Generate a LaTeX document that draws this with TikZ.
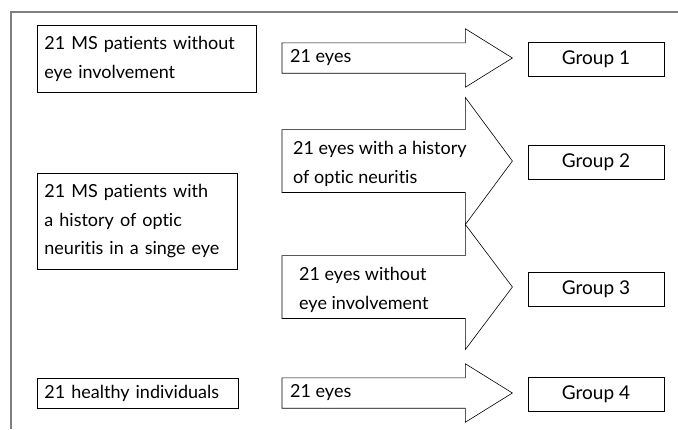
\documentclass[tikz,border=0pt]{standalone}
\usepackage{fontspec}
\setmainfont[Ligatures=NoCommon]{Lato}
\usetikzlibrary{positioning}

\begin{document}
\begin{tikzpicture}[x=1pt,y=-1pt, font=\fontsize{18}{28.5}\selectfont,
    src/.style={draw, line width=0.9pt, anchor=north west, inner xsep=7pt, align=left},
    grp/.style={draw, line width=0.9pt, minimum width=136pt, minimum height=34pt, font=\fontsize{19}{22}\selectfont},
    shaft/.style={anchor=west, minimum width=183pt, inner sep=0pt},
    lbl/.style={align=left, inner xsep=6pt}]
  \useasboundingbox (0,0) rectangle (678,429);
  % open frame
  \draw[gray, line width=1.3pt] (11,429) -- (11,12) -- (678,12);

  % patient groups
  \node[src, text width=205pt, minimum height=67pt] (msA) at (37,25) {21 MS patients without\\eye involvement};
  \node[src, text width=186pt, minimum height=96pt] (msB) at (37,173) {21 MS patients with\\a history of optic\\neuritis in a singe eye};
  \node[src, text width=187pt, minimum height=30pt] (hc) at (37,378) {21 healthy individuals};

  % arrow shafts
  \node[shaft, minimum height=30pt] (e1) at (282,58) {};
  \node[shaft, minimum height=62.5pt] (e2) at (282,161) {};
  \node[shaft, minimum height=62.5pt] (e3) at (282,287) {};
  \node[shaft, minimum height=30pt] (e4) at (282,393) {};
  \foreach \s/\h in {e1/14, e2/32, e3/31, e4/14}
    \draw[line width=0.6pt] (\s.south west) -- (\s.north west) -- (\s.north east)
      -- ([yshift=\h pt]\s.north east) -- ([xshift=47pt]\s.east)
      -- ([yshift=-\h pt]\s.south east) -- (\s.south east) -- cycle;
  \node[lbl, right=2pt of e1.west] (t1) {21 eyes};
  \node[lbl, right=5pt of e2.west, yshift=-3pt] (t2) {21 eyes with a history\\of optic neuritis};
  \node[lbl, right=11pt of e3.west, yshift=-3pt] (t3) {21 eyes without\\eye involvement};
  \node[lbl, right=2pt of e4.west] (t4) {21 eyes};

  % resulting groups
  \foreach \n/\yc in {1/59, 2/162, 3/289, 4/394}
    \node[grp] (g\n) at (596,\yc) {Group \n};
\end{tikzpicture}
\end{document}
